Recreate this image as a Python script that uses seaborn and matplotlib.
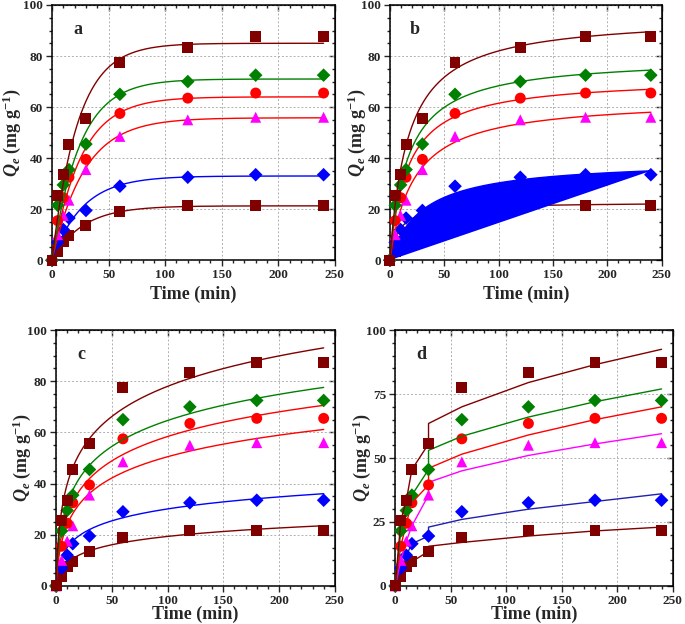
import numpy as np
import pandas as pd
import matplotlib.pyplot as plt
import seaborn as sns
from matplotlib.ticker import MultipleLocator

# measured uptake, same in every panel (series listed bottom -> top)
time = [0, 5, 10, 15, 30, 60, 120, 180, 240]
q_sq_low = [0, 3.5, 7.5, 9.5, 13.5, 19, 21.5, 21.5, 21.5]
q_dia_blue = [0, 7, 12, 16.5, 19.5, 29, 32.5, 33.5, 33.5]
q_tri = [0, 10, 17.5, 23.5, 35.5, 48.5, 55, 56, 56]
q_circ = [0, 15.5, 24.5, 32.5, 39.5, 57.5, 63.5, 65.5, 65.5]
q_dia_green = [0, 21.5, 29.5, 35.5, 45.5, 65, 70, 72.5, 72.5]
q_sq_high = [0, 25.5, 33.5, 45.5, 55.5, 77.5, 83.5, 87.5, 87.5]
measured = [q_sq_low, q_dia_blue, q_tri, q_circ, q_dia_green, q_sq_high]

# (a) pseudo-first-order fit parameters
pfo_qe = [21.3, 33.0, 55.8, 64.0, 71.0, 85.0]
pfo_k = [0.037, 0.037, 0.035, 0.039, 0.041, 0.044]
# (b) pseudo-second-order fit parameters (h = k*qe^2)
pso_qe = [22.75, 39.4, 63.3, 71.5, 79.6, 95.8]
pso_h = [2.78, 1.31, 2.87, 4.40, 4.83, 5.69]
# (c) Elovich fit parameters, q = b*ln(1 + c*t)
elo_b = [4.83, 6.85, 12.3, 14.07, 14.9, 17.3]
elo_c = [0.54, 0.80, 0.597, 0.625, 0.757, 0.899]
# (d) intraparticle diffusion, second stage values
ipd_time = [30, 60, 120, 180, 240]
ipd_sq_low = [15.5, 17, 19.5, 21.5, 23]
ipd_dia_blue = [23, 26, 30, 33, 36]
ipd_tri = [40.5, 45, 51, 55.5, 59.5]
ipd_circ = [46, 51.5, 59, 65, 70]
ipd_dia_green = [53, 58.5, 66, 72, 77]
ipd_sq_high = [63.5, 70, 79.5, 86.5, 92.5]
ipd_stage2 = [ipd_sq_low, ipd_dia_blue, ipd_tri, ipd_circ, ipd_dia_green, ipd_sq_high]

MAROON = '#800000'
point_colors = [MAROON, '#0000ff', '#ff00ff', '#ff0000', '#008000', MAROON]
markers = ['s', 'D', '^', 'o', 'D', 's']
sizes = [62, 48, 62, 62, 48, 62]
line_colors = [MAROON, '#0000ff', '#ff0000', '#ff0000', '#008000', MAROON]
line_colors_d = [MAROON, '#2020b0', '#ff00ff', '#ff0000', '#008000', MAROON]

sns.set_style("ticks")
plt.rcParams['font.family'] = ['Liberation Serif', 'DejaVu Serif']
plt.rcParams['font.weight'] = 'bold'
plt.rcParams['mathtext.fontset'] = 'custom'
plt.rcParams['mathtext.rm'] = 'Liberation Serif:bold'
plt.rcParams['mathtext.bf'] = 'Liberation Serif:bold'
plt.rcParams['mathtext.it'] = 'Liberation Serif:italic:bold'
plt.rcParams['mathtext.bfit'] = 'Liberation Serif:italic:bold'

fig = plt.figure(figsize=(6.85, 6.24), dpi=100)
boxes = {
    'a': [0.0759, 0.583, 0.413, 0.409],
    'b': [0.569, 0.583, 0.397, 0.409],
    'c': [0.0818, 0.061, 0.407, 0.410],
    'd': [0.577, 0.061, 0.405, 0.410],
}
# right edge of the rotated y label, in axes fraction
ylab_x = {'a': -0.102, 'b': -0.081, 'c': -0.082, 'd': -0.079}
t_fine = np.linspace(0, 240, 481)


def style_axis(ax, letter, ymajor, labelpad):
    ax.set_xlim(0, 250)
    ax.set_ylim(0, 100)
    ax.xaxis.set_major_locator(MultipleLocator(50))
    ax.xaxis.set_minor_locator(MultipleLocator(10))
    ax.yaxis.set_major_locator(MultipleLocator(ymajor))
    ax.yaxis.set_minor_locator(MultipleLocator(5))
    ax.tick_params(which='both', direction='out', labelsize=9.5, width=1, pad=2.5)
    ax.tick_params(which='major', length=4)
    ax.tick_params(which='minor', length=2.5)
    for lab in ax.get_xticklabels() + ax.get_yticklabels():
        lab.set_fontweight('bold')
    ax.grid(True, which='major', ls=(0, (2, 2)), color='#b0b0b0', lw=0.7)
    for sp in ax.spines.values():
        sp.set_visible(True)
        sp.set_linewidth(1.1)
        sp.set_color('black')
    top = ax.secondary_xaxis('top')
    top.xaxis.set_major_locator(MultipleLocator(50))
    top.xaxis.set_minor_locator(MultipleLocator(10))
    top.tick_params(which='both', direction='in', labeltop=False, width=1)
    top.tick_params(which='major', length=4)
    top.tick_params(which='minor', length=2.5)
    right = ax.secondary_yaxis('right')
    right.yaxis.set_major_locator(MultipleLocator(ymajor))
    right.yaxis.set_minor_locator(MultipleLocator(5))
    right.tick_params(which='both', direction='in', labelright=False, width=1)
    right.tick_params(which='major', length=4)
    right.tick_params(which='minor', length=2.5)
    ax.set_xlabel('Time (min)', fontsize=13, fontweight='bold', labelpad=labelpad)
    ax.set_ylabel(r'$\mathbfit{Q}_{\mathbfit{e}}$ (mg g$^{\mathbf{-1}}$)',
                  fontsize=13, fontweight='bold')
    ax.yaxis.set_label_coords(ylab_x[letter], 0.5)
    ax.text(0.075, 0.905, letter, transform=ax.transAxes, fontsize=13,
            fontweight='bold', ha='left', va='center')


for letter in ['a', 'b', 'c', 'd']:
    ax = fig.add_axes(boxes[letter])
    for i, q in enumerate(measured):
        z = 3 + 2 * i
        if letter == 'a':
            fit = pfo_qe[i] * (1 - np.exp(-pfo_k[i] * t_fine))
            tx, ty, col = t_fine, fit, line_colors[i]
        elif letter == 'b':
            fit = t_fine / (1 / pso_h[i] + t_fine / pso_qe[i])
            tx, ty, col = t_fine, fit, line_colors[i]
        elif letter == 'c':
            fit = elo_b[i] * np.log(1 + elo_c[i] * t_fine)
            tx, ty, col = t_fine, fit, line_colors[i]
        else:
            tx = time[:5] + ipd_time
            ty = q[:5] + ipd_stage2[i]
            col = line_colors_d[i]
        if letter == 'b' and i == 1:
            # the blue fit in panel b is drawn as a closed, filled shape
            ax.fill(tx, ty, color='#0000ff', lw=0, zorder=z)
        sns.lineplot(x=tx, y=ty, ax=ax, color=col, lw=1, estimator=None,
                     sort=False, zorder=z)
        pts = pd.DataFrame({'t': time, 'q': q})
        sns.scatterplot(data=pts, x='t', y='q', ax=ax, marker=markers[i],
                        s=sizes[i], color=point_colors[i], edgecolor='none',
                        linewidth=0, zorder=z + 1, clip_on=False, legend=False)
    style_axis(ax, letter, 25 if letter == 'd' else 20,
               3 if letter in 'ab' else -1)

fig.savefig('out.png', dpi=100)
